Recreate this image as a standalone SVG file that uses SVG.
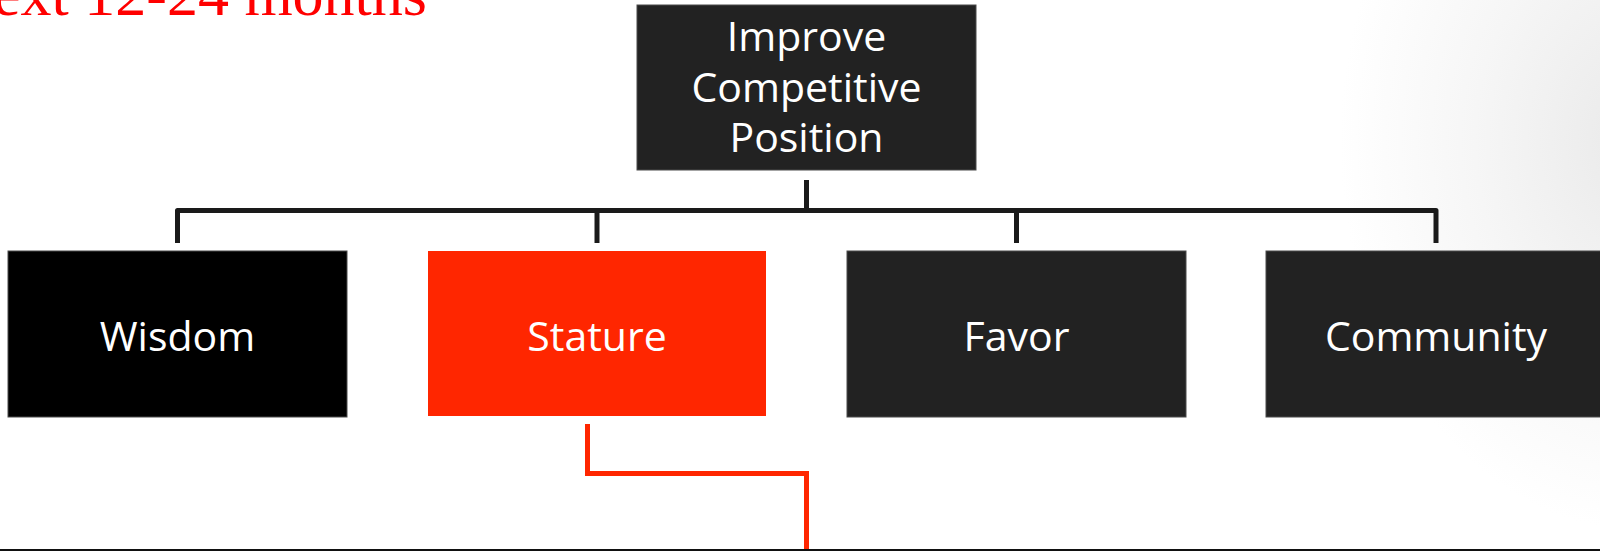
<svg xmlns="http://www.w3.org/2000/svg" width="1600" height="551" viewBox="0 0 1600 551">
  <defs>
    <radialGradient id="shade" cx="1640" cy="140" r="300" gradientUnits="userSpaceOnUse" gradientTransform="translate(1640 140) scale(1 1.3) translate(-1640 -140)">
      <stop offset="0" stop-color="#e9e9e9"/>
      <stop offset="0.55" stop-color="#f6f6f6"/>
      <stop offset="1" stop-color="#ffffff"/>
    </radialGradient>
    <style>
      .box { stroke: #4a4a4a; stroke-width: 1; }
      .dark { fill: #222222; }
      .black { fill: #000000; }
      .red { fill: #ff2600; }
      .label { font-family: "Open Sans", "Noto Sans", sans-serif; font-size: 41px; fill: #ffffff; text-anchor: middle; }
      .tree { fill: none; stroke: #1a1a1a; stroke-width: 5; stroke-linejoin: round; }
      .accent { fill: none; stroke: #ff2600; stroke-width: 5; stroke-linejoin: miter; }
      .heading { font-family: "Liberation Serif", "Times New Roman", serif; font-size: 62px; fill: #ff0000; }
    </style>
  </defs>

  <!-- page background with soft shading on the right -->
  <rect x="0" y="0" width="1600" height="551" fill="#ffffff"/>
  <rect x="1280" y="0" width="320" height="551" fill="url(#shade)"/>

  <!-- heading, partly cut by the top edge -->
  <text class="heading" x="-7" y="15">ext 12-24 months</text>

  <!-- connectors -->
  <g id="connectors">
    <line class="tree" x1="806.5" y1="180" x2="806.5" y2="210.5"/>
    <path class="tree" d="M177.5,243 V210.5 H1436 V243"/>
    <line class="tree" x1="597" y1="210.5" x2="597" y2="243"/>
    <line class="tree" x1="1016.5" y1="210.5" x2="1016.5" y2="243"/>
    <path class="accent" d="M587.5,424 V473.5 H806.5 V551"/>
  </g>

  <!-- root node -->
  <g id="node-root">
    <rect class="box dark" x="637" y="5" width="339" height="165"/>
    <text class="label" x="806.5" y="51">Improve</text>
    <text class="label" x="806.5" y="102">Competitive</text>
    <text class="label" x="806.5" y="152">Position</text>
  </g>

  <g id="node-wisdom">
    <rect class="box black" x="8" y="251" width="339" height="166"/>
    <text class="label" x="177.5" y="351">Wisdom</text>
  </g>

  <g id="node-stature">
    <rect class="red" x="428" y="251" width="338" height="165"/>
    <text class="label" x="597" y="351">Stature</text>
  </g>

  <g id="node-favor">
    <rect class="box dark" x="847" y="251" width="339" height="166"/>
    <text class="label" x="1016.5" y="351">Favor</text>
  </g>

  <g id="node-community">
    <rect class="box dark" x="1266" y="251" width="345" height="166"/>
    <text class="label" x="1436" y="351">Community</text>
  </g>

  <!-- bottom rule -->
  <rect x="0" y="549" width="1600" height="2" fill="#111111"/>
</svg>
